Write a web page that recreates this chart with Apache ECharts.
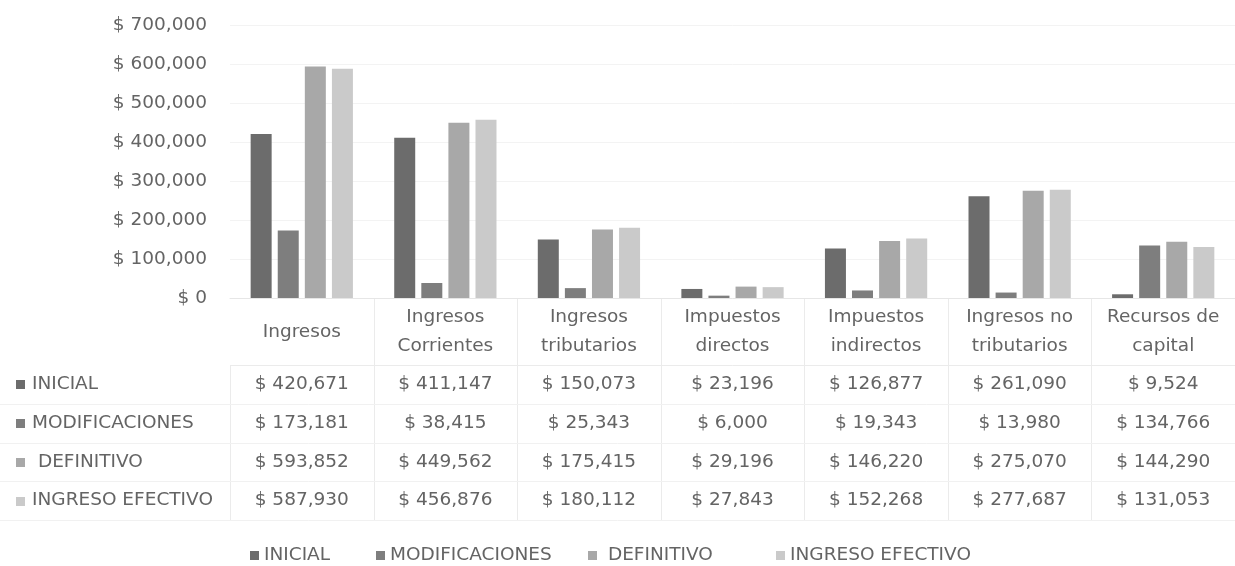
<!DOCTYPE html>
<html>
<head>
<meta charset="utf-8">
<script src="https://cdn.jsdelivr.net/npm/echarts@6/dist/echarts.min.js"></script>
<style>
html,body{margin:0;padding:0;background:#fff;}
#main{width:1235px;height:566px;}
</style>
</head>
<body>
<div id="main"></div>
<script>
// ---- data ----
const categories = ['Ingresos', 'Ingresos\nCorrientes', 'Ingresos\ntributarios', 'Impuestos\ndirectos', 'Impuestos\nindirectos', 'Ingresos no\ntributarios', 'Recursos de\ncapital'];
const seriesNames = ['INICIAL', 'MODIFICACIONES', ' DEFINITIVO', 'INGRESO EFECTIVO'];
const inicial = [420671, 411147, 150073, 23196, 126877, 261090, 9524];
const modificaciones = [173181, 38415, 25343, 6000, 19343, 13980, 134766];
const definitivo = [593852, 449562, 175415, 29196, 146220, 275070, 144290];
const ingresoEfectivo = [587930, 456876, 180112, 27843, 152268, 277687, 131053];
const yTicks = { min: 0, max: 700000, interval: 100000 };

const seriesValues = [inicial, modificaciones, definitivo, ingresoEfectivo];
const colors = ['#6c6c6c', '#7e7e7e', '#a8a8a8', '#cacaca'];
const FONT = 'DejaVu Sans';
const TXT = '#646464';
const FS = 18.5;

function fmt(v) { return '$ ' + v.toLocaleString('en-US'); }

const chart = echarts.init(document.getElementById('main'), null, { renderer: 'canvas' });

const legendX = [245, 371, 583, 771];
const legends = seriesNames.map((n, i) => ({
  data: [n],
  left: legendX[i],
  top: 541,
  icon: 'rect',
  itemWidth: 9,
  itemHeight: 9,
  itemGap: 5,
  selectedMode: false,
  textStyle: { fontFamily: FONT, fontSize: FS, color: TXT }
}));

const option = {
  animation: false,
  color: colors,
  textStyle: { fontFamily: FONT },
  grid: { left: 230, top: 25, width: 1010, height: 273, containLabel: false },
  legend: legends,
  xAxis: {
    type: 'category',
    data: categories,
    axisLine: { show: true, lineStyle: { color: '#e6e6e6' } },
    axisTick: { show: false },
    axisLabel: {
      interval: 0,
      margin: 34,
      verticalAlign: 'middle',
      lineHeight: 29,
      fontFamily: FONT, fontSize: FS, color: TXT
    }
  },
  yAxis: {
    type: 'value',
    min: yTicks.min, max: yTicks.max, interval: yTicks.interval,
    axisLine: { show: false },
    axisTick: { show: false },
    splitLine: { lineStyle: { color: '#f3f3f3' } },
    axisLabel: {
      margin: 23,
      fontFamily: FONT, fontSize: FS, color: TXT,
      formatter: v => fmt(v)
    }
  },
  series: seriesNames.map((n, i) => ({
    name: n,
    type: 'bar',
    data: seriesValues[i],
    barWidth: 21,
    barGap: '29%',
    itemStyle: { color: colors[i] }
  }))
};
chart.setOption(option);

// ---- data table drawn as graphic elements ----
function buildTable() {
  const centers = categories.map((c, i) => chart.convertToPixel({ xAxisIndex: 0 }, i));
  const half = (centers[1] - centers[0]) / 2;
  const axisY = chart.convertToPixel({ yAxisIndex: 0 }, 0);
  const rowTop = 365, rowH = 38.75;
  const tableBottom = rowTop + rowH * 4;
  const lineColor = '#ebebeb';
  const els = [];
  const leftX = Math.round(centers[0] - half) + 0.5;
  els.push({ type: 'line', shape: { x1: leftX, y1: rowTop, x2: leftX, y2: tableBottom }, style: { stroke: lineColor, lineWidth: 1 }, silent: true });
  for (let i = 1; i < centers.length; i++) {
    const x = Math.round(centers[i] - half) + 0.5;
    els.push({ type: 'line', shape: { x1: x, y1: axisY, x2: x, y2: tableBottom }, style: { stroke: lineColor, lineWidth: 1 }, silent: true });
  }
  for (let r = 0; r <= 4; r++) {
    const y = Math.round(rowTop + r * rowH) + 0.5;
    els.push({ type: 'line', shape: { x1: r === 0 ? leftX : 0, y1: y, x2: 1235, y2: y }, style: { stroke: r === 0 ? lineColor : '#f1f1f1', lineWidth: 1 }, silent: true });
  }
  seriesNames.forEach((n, r) => {
    const cy = rowTop + rowH * (r + 0.5);
    els.push({ type: 'rect', shape: { x: 16, y: Math.round(cy - 4), width: 9, height: 9 }, style: { fill: colors[r] }, silent: true });
    els.push({ type: 'text', x: 32, y: cy, style: { text: n, fontFamily: FONT, fontSize: FS, fill: TXT, align: 'left', verticalAlign: 'middle' }, silent: true });
    seriesValues[r].forEach((v, i) => {
      els.push({ type: 'text', x: centers[i], y: cy, style: { text: fmt(v), fontFamily: FONT, fontSize: FS, fill: TXT, align: 'center', verticalAlign: 'middle' }, silent: true });
    });
  });
  chart.setOption({ graphic: { elements: els } });
}
buildTable();
</script>
</body>
</html>
